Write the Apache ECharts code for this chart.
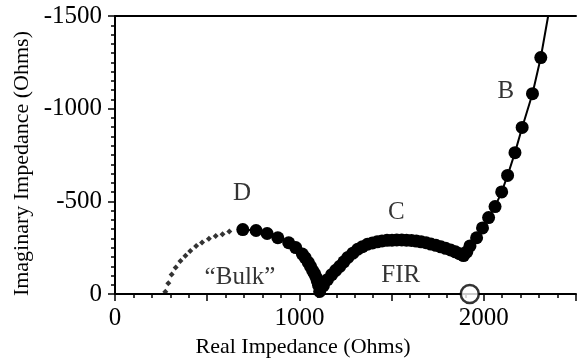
<!DOCTYPE html>
<html>
<head>
<meta charset="utf-8">
<script src="https://cdn.jsdelivr.net/npm/echarts@6/dist/echarts.min.js"></script>
<style>
  html, body { margin: 0; padding: 0; background: #fff; }
  #chart { width: 579px; height: 363px; }
</style>
</head>
<body>
<div id="chart"></div>
<script>
// bulk semicircle fit (dotted part, below the measured points)
const bulkFit = [
  [273, -13], [289, -58], [307, -106], [329, -143], [355, -178], [382, -207],
  [408, -233], [440, -260], [472, -278], [509, -299], [546, -313], [583, -323], [620, -337]
];
// measured points: arc D down to the 1100 ohm minimum
const arcD = [
  [693, -348], [765, -343], [825, -327], [883, -304], [942, -277], [980, -251],
  [1016, -216], [1032, -195], [1048, -171], [1060, -150], [1072, -127], [1082, -110],
  [1090, -92], [1097, -70], [1104, -48], [1110, -14]
];
// arc C (FIR)
const arcC = [
  [1130, -45], [1152, -78], [1175, -105], [1197, -128], [1219, -150], [1241, -174],
  [1263, -198], [1290, -221], [1316, -242], [1342, -256], [1369, -269], [1396, -276],
  [1422, -282], [1448, -287], [1475, -290], [1502, -291], [1528, -292], [1555, -292],
  [1581, -291], [1608, -289], [1634, -286], [1660, -282], [1687, -277], [1713, -270],
  [1740, -263], [1767, -255], [1793, -247], [1820, -238], [1846, -228], [1868, -218],
  [1890, -208]
];
// spur B
const spurB = [
  [1908, -228], [1925, -260], [1961, -304], [1993, -357], [2026, -413], [2061, -472],
  [2097, -551], [2129, -640], [2169, -763], [2208, -899], [2264, -1081], [2309, -1276]
];
const spurEnd = [2349, -1500];
const openPoint = [[1924, 0]];
const notes = [
  { name: "D", value: [689, -541] },
  { name: "C", value: [1526, -440] },
  { name: "B", value: [2120, -1092] },
  { name: "\u201cBulk\u201d", value: [678, -90] },
  { name: "FIR", value: [1550, -101] }
];
const xTicks = [0, 1000, 2000];

const serif = "Liberation Serif";
const chart = echarts.init(document.getElementById("chart"));

let measured = arcD.concat(arcC, spurB).map(p => ({ value: p }));
measured.push({ value: spurEnd, symbol: "none" });

chart.setOption({
  animation: false,
  grid: { left: 115, top: 16, width: 471.5, height: 283 },
  xAxis: [
    {
      type: "value",
      min: 0,
      max: 2500,
      interval: 500,
      name: "Real Impedance (Ohms)",
      nameLocation: "middle",
      nameGap: 39,
      nameTextStyle: { fontFamily: serif, fontSize: 22, color: "#000", padding: [0, 85, 0, 0] },
      axisLine: { lineStyle: { color: "#000", width: 2 } },
      axisTick: { length: 7, lineStyle: { color: "#000", width: 1.5 } },
      minorTick: { show: true, splitNumber: 5, length: 4, lineStyle: { color: "#000", width: 1.5 } },
      axisLabel: {
        fontFamily: serif, fontSize: 25, color: "#000", margin: 12,
        formatter: v => (xTicks.indexOf(v) >= 0 ? String(v) : "")
      },
      splitLine: { show: false }
    },
    {
      type: "value",
      position: "top",
      min: 0,
      max: 2500,
      axisLine: { show: true, lineStyle: { color: "#000", width: 2 } },
      axisTick: { show: false },
      axisLabel: { show: false },
      splitLine: { show: false }
    }
  ],
  yAxis: {
    type: "value",
    inverse: true,
    min: -1500,
    max: 0,
    interval: 500,
    name: "Imaginary Impedance (Ohms)",
    nameLocation: "middle",
    nameGap: 82,
    nameTextStyle: { fontFamily: serif, fontSize: 22, color: "#000", padding: [0, 17, 0, 0] },
    axisLine: { show: true, lineStyle: { color: "#000", width: 2 } },
    axisTick: { length: 7, lineStyle: { color: "#000", width: 1.5 } },
    minorTick: { show: true, splitNumber: 10, length: 4, lineStyle: { color: "#000", width: 1.5 } },
    axisLabel: {
      fontFamily: serif, fontSize: 25, color: "#000", margin: 13,
      formatter: v => String(v)
    },
    splitLine: { show: false }
  },
  series: [
    {
      name: "bulk fit",
      type: "scatter",
      symbol: "diamond",
      symbolSize: 6,
      itemStyle: { color: "#000" },
      data: bulkFit
    },
    {
      name: "measured",
      type: "line",
      symbol: "circle",
      symbolSize: 13,
      showAllSymbol: true,
      itemStyle: { color: "#000" },
      lineStyle: { color: "#000", width: 2 },
      data: measured
    },
    {
      name: "open",
      type: "scatter",
      clip: false,
      symbol: "circle",
      symbolSize: 18,
      itemStyle: { color: "#fff", borderColor: "#000", borderWidth: 2.5 },
      z: 5,
      data: openPoint
    },
    {
      name: "notes",
      type: "scatter",
      symbolSize: 1,
      itemStyle: { color: "rgba(0,0,0,0)" },
      label: {
        show: true,
        position: "inside",
        formatter: "{b}",
        fontFamily: serif,
        fontSize: 25,
        color: "#000"
      },
      data: notes
    }
  ]
});
</script>
</body>
</html>
